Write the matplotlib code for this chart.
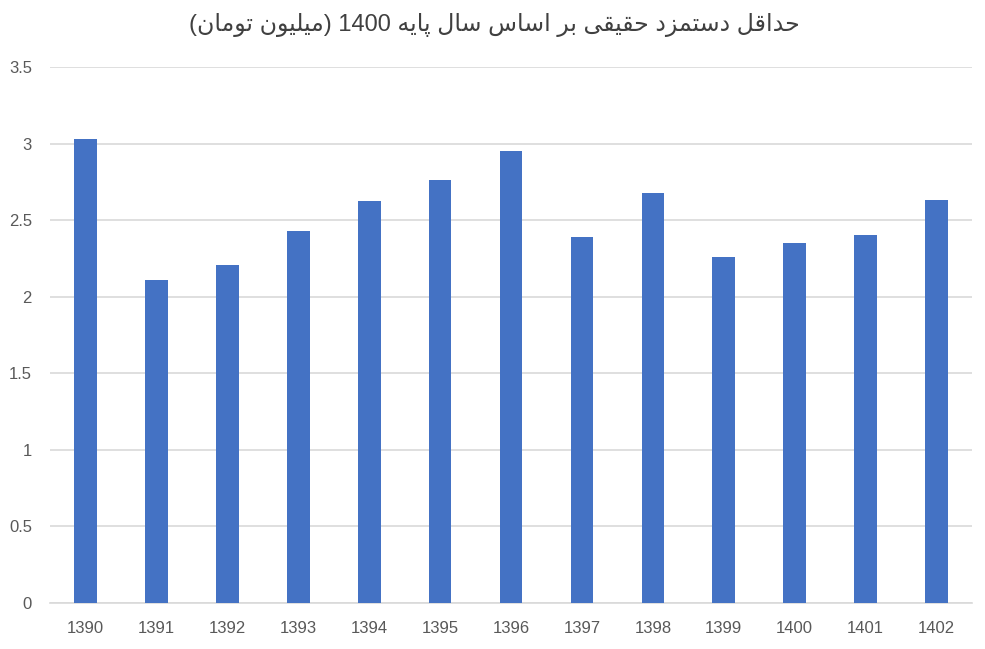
import re
import unicodedata
import matplotlib
matplotlib.use("Agg")
import matplotlib.pyplot as plt
import numpy as np

years = ["1390", "1391", "1392", "1393", "1394", "1395", "1396",
         "1397", "1398", "1399", "1400", "1401", "1402"]
wages = [3.03, 2.11, 2.21, 2.43, 2.625, 2.76, 2.95, 2.39, 2.68, 2.26, 2.35, 2.40, 2.63]
yticks = [0, 0.5, 1, 1.5, 2, 2.5, 3, 3.5]
ytick_labels = ["0", "0.5", "1", "1.5", "2", "2.5", "3", "3.5"]
title = "حداقل دستمزد حقیقی بر اساس سال پایه 1400 (میلیون تومان)"

# --- minimal Arabic/Persian shaping + bidi for display ---
RIGHT_ONLY = set("اآأإدذرزژوؤة")


def _is_ar(c):
    return "\u0620" <= c <= "\u06FF" and not ("\u0660" <= c <= "\u0669") and not ("\u06F0" <= c <= "\u06F9")


def _form(c, f):
    try:
        return unicodedata.lookup(unicodedata.name(c) + " " + f + " FORM")
    except KeyError:
        return c


def _shape(s):
    out = []
    for i, c in enumerate(s):
        if not _is_ar(c):
            out.append(c)
            continue
        p = s[i - 1] if i > 0 else ""
        n = s[i + 1] if i + 1 < len(s) else ""
        jp = bool(p) and _is_ar(p) and p not in RIGHT_ONLY
        jn = bool(n) and _is_ar(n) and c not in RIGHT_ONLY
        if jp and jn:
            f = "MEDIAL"
        elif jp:
            f = "FINAL"
        elif jn:
            f = "INITIAL"
        else:
            f = "ISOLATED"
        out.append(_form(c, f))
    return "".join(out)


def visual(s):
    r = _shape(s)[::-1]
    r = re.sub(r"[0-9]+", lambda m: m.group(0)[::-1], r)
    return r.translate(str.maketrans("()", ")("))


fig = plt.figure(figsize=(9.85, 6.49), dpi=100)
ax = fig.add_axes([0.0508, 0.0709, 0.9360, 0.8259])

x = np.arange(len(years))
ax.bar(x, wages, width=0.32, color="#4472C4", zorder=3)

ax.set_xlim(-0.5, len(years) - 0.5)
ax.set_ylim(0, 3.5)
ax.set_yticks(yticks)
ax.set_yticklabels(ytick_labels)
ax.set_xticks(x)
ax.set_xticklabels(years)

ax.yaxis.grid(True, color="#D9D9D9", linewidth=1.2, zorder=0)
ax.set_axisbelow(True)
for s in ["top", "right", "left"]:
    ax.spines[s].set_visible(False)
ax.spines["bottom"].set_color("#D9D9D9")
ax.spines["bottom"].set_linewidth(1.2)
ax.tick_params(axis="both", length=0, labelsize=12, labelcolor="#595959")
ax.tick_params(axis="y", pad=13)
ax.tick_params(axis="x", pad=13)
for lab in ax.get_xticklabels() + ax.get_yticklabels():
    lab.set_family(["Liberation Sans", "DejaVu Sans"])

fig.text(0.502, 0.962, visual(title), ha="center", va="center", fontsize=17,
         color="#404040", family=["Liberation Sans", "DejaVu Sans"])

fig.savefig("out.png", dpi=100, facecolor="white")
